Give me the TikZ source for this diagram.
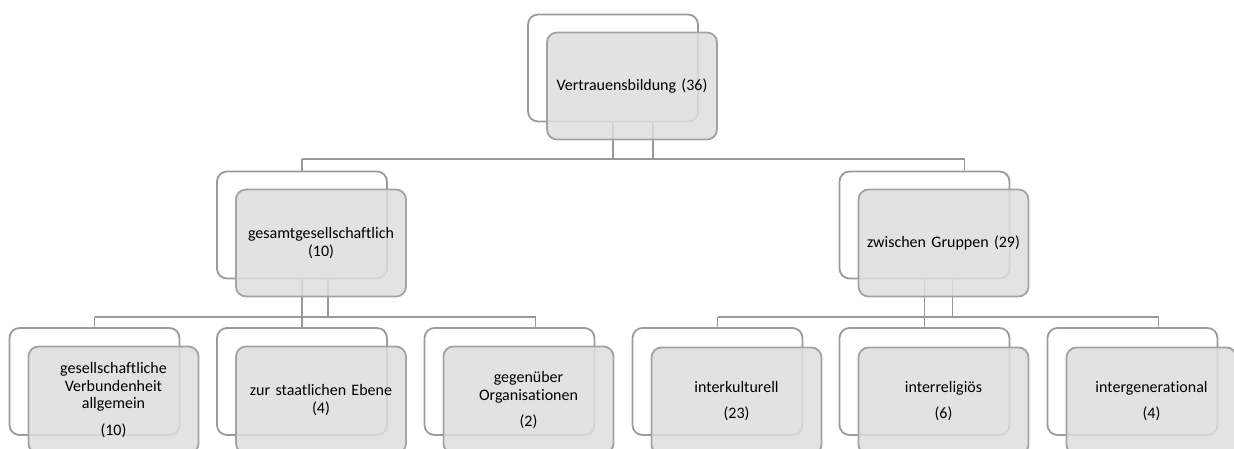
\documentclass[tikz,border=0pt]{standalone}
\usepackage{fontspec}
\setmainfont{Carlito}[Ligatures={NoCommon}]
\usetikzlibrary{calc}
\definecolor{boxline}{HTML}{9B9B9B}
\definecolor{boxline2}{HTML}{A3A3A3}
\definecolor{boxfill}{HTML}{DEDEDE}
\definecolor{connline}{HTML}{999999}
\begin{document}
\begin{tikzpicture}[x=1pt,y=-1pt,
  back/.style={draw=boxline, line width=1.8pt, rounded corners=10pt, fill=white,
    minimum width=170pt, minimum height=107pt, inner sep=0pt},
  front/.style={draw=boxline2, line width=1.8pt, rounded corners=10pt, fill=boxfill,
    fill opacity=0.85, text opacity=1, minimum width=170pt, minimum height=107pt,
    inner sep=0pt, align=center, text width=160pt,
    font=\fontsize{16}{17.6}\selectfont},
  conn/.style={draw=connline, line width=1.7pt}]
\path[use as bounding box] (0,0) rectangle (1234,448);
\clip (0,0) rectangle (1234,448);

% back (white) boxes
\node[back] (Aw) at (613,68) {};
\node[back] (Bw) at (302,225) {};
\node[back] (Cw) at (924.5,225) {};
\node[back] (D1w) at (94.5,381.5) {};
\node[back] (D2w) at (302,381.5) {};
\node[back] (D3w) at (509.5,381.5) {};
\node[back] (D4w) at (717.5,381.5) {};
\node[back] (D5w) at (924.5,381.5) {};
\node[back] (D6w) at (1132.5,381.5) {};

% connectors
\coordinate (busA) at (0,159);
\coordinate (busB) at (0,317);
\coordinate (Ao) at ($(Aw.south)+(40,0)$);
\coordinate (Co) at ($(Cw.north)+(40,0)$);
\coordinate (Bo) at ($(Bw.south)+(26,0)$);
\coordinate (D3o) at ($(D3w.north)+(26,0)$);
\coordinate (Cso) at ($(Cw.south)+(28,0)$);
\coordinate (D6o) at ($(D6w.north)+(26,0)$);

\draw[conn] (Aw.south) -- (Aw.south |- busA);
\draw[conn] (Ao) -- (Ao |- busA);
\draw[conn] (Bw.north |- busA) -- (Co |- busA);
\draw[conn] (Bw.north) -- (Bw.north |- busA);
\draw[conn] (Co) -- (Co |- busA);

\draw[conn] (Bw.south) -- (D2w.north);
\draw[conn] (Bo) -- (Bo |- busB);
\draw[conn] (D1w.north |- busB) -- (D3o |- busB);
\draw[conn] (D1w.north) -- (D1w.north |- busB);
\draw[conn] (D3o) -- (D3o |- busB);

\draw[conn] (Cw.south) -- (D5w.north);
\draw[conn] (Cso) -- (Cso |- busB);
\draw[conn] (D4w.north |- busB) -- (D6o |- busB);
\draw[conn] (D4w.north) -- (D4w.north |- busB);
\draw[conn] (D6o) -- (D6o |- busB);

% front (grey) boxes
\node[front] (A) at (632,86) {Vertrauensbildung (36)};
\node[front] (B) at (321,243) {gesamtgesellschaftlich\\(10)};
\node[front] (C) at (943.5,243) {zwischen Gruppen (29)};
\node[front] (D1) at (113.5,400) {gesellschaftliche\\Verbundenheit\\allgemein\\[9pt](10)};
\node[front] (D2) at (321,400) {zur staatlichen Ebene\\(4)};
\node[front] (D3) at (528.5,400) {gegenüber\\Organisationen\\[8pt](2)};
\node[front] (D4) at (736.5,401) {interkulturell\\[8pt](23)};
\node[front] (D5) at (943.5,401) {interreligiös\\[8pt](6)};
\node[front] (D6) at (1151.5,401) {intergenerational\\[8pt](4)};
\end{tikzpicture}
\end{document}
